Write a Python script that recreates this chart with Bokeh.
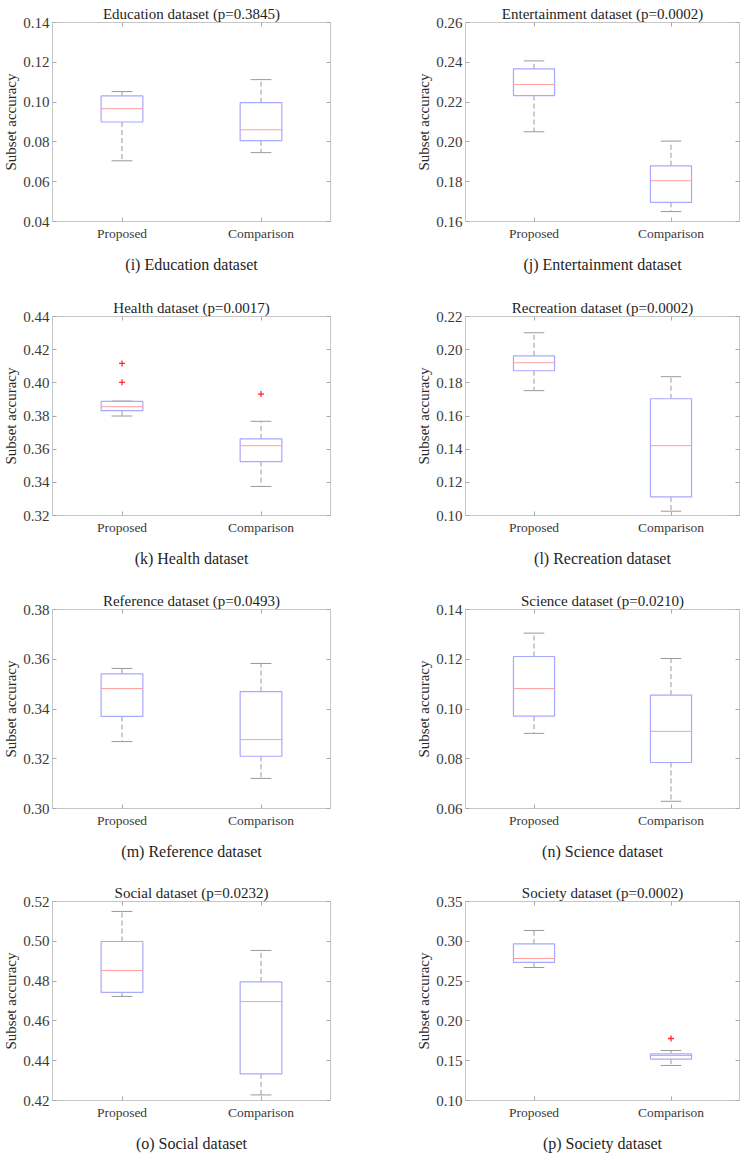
from bokeh.plotting import figure
from bokeh.models import (Range1d, FixedTicker, LinearAxis, Title,
                          PrintfTickFormatter, ColumnDataSource, CustomJSTickFormatter)
from bokeh.layouts import column, row
from bokeh.embed import file_html
from bokeh.resources import INLINE

# ---------------- data ----------------
methods = ["Proposed", "Comparison"]
datasets = ["Education", "Entertainment", "Health", "Recreation",
            "Reference", "Science", "Social", "Society"]
letters = ["i", "j", "k", "l", "m", "n", "o", "p"]
p_values = ["0.3845", "0.0002", "0.0017", "0.0002",
            "0.0493", "0.0210", "0.0232", "0.0002"]

y_lims = [(0.04, 0.14), (0.16, 0.26), (0.32, 0.44), (0.10, 0.22),
          (0.30, 0.38), (0.06, 0.14), (0.42, 0.52), (0.10, 0.35)]
y_ticks = [
    [0.04, 0.06, 0.08, 0.10, 0.12, 0.14],
    [0.16, 0.18, 0.20, 0.22, 0.24, 0.26],
    [0.32, 0.34, 0.36, 0.38, 0.40, 0.42, 0.44],
    [0.10, 0.12, 0.14, 0.16, 0.18, 0.20, 0.22],
    [0.30, 0.32, 0.34, 0.36, 0.38],
    [0.06, 0.08, 0.10, 0.12, 0.14],
    [0.42, 0.44, 0.46, 0.48, 0.50, 0.52],
    [0.10, 0.15, 0.20, 0.25, 0.30, 0.35],
]

# box statistics per dataset: [Proposed, Comparison]
whisker_low = [[0.0705, 0.0746], [0.2051, 0.1650], [0.3800, 0.3375], [0.1753, 0.1026],
               [0.3269, 0.3121], [0.0902, 0.0629], [0.4723, 0.4228], [0.2671, 0.1440]]
quart_1 = [[0.0900, 0.0806], [0.2233, 0.1696], [0.3832, 0.3525], [0.1873, 0.1112],
           [0.3370, 0.3210], [0.0971, 0.0785], [0.4743, 0.4334], [0.2734, 0.1519]]
medians = [[0.0967, 0.0861], [0.2288, 0.1805], [0.3856, 0.3621], [0.1921, 0.1421],
           [0.3482, 0.3277], [0.1082, 0.0910], [0.4853, 0.4697], [0.2784, 0.1565]]
quart_3 = [[0.1031, 0.0997], [0.2367, 0.1880], [0.3888, 0.3662], [0.1963, 0.1704],
           [0.3541, 0.3470], [0.1211, 0.1056], [0.4999, 0.4796], [0.2968, 0.1586]]
whisker_high = [[0.1053, 0.1113], [0.2407, 0.2004], [0.3890, 0.3768], [0.2102, 0.1837],
                [0.3563, 0.3583], [0.1305, 0.1203], [0.5150, 0.4954], [0.3136, 0.1628]]
outliers = [[[], []], [[], []], [[0.4117, 0.4003], [0.3932]], [[], []],
            [[], []], [[], []], [[], []], [[], [0.1779]]]

# ---------------- style ----------------
FONT = "Liberation Serif"
FRAME = "#c6c6c6"
TICK = "#a9a9a9"
BOX = "#a8a8ff"
MED = "#ff9c9c"
WHISK = "#9a9a9a"
OUT = "#ff2a2a"
TXT = "#3a3a3a"
TITLE_TXT = "#1e1e1e"

box_w = 0.3
cap_w = 0.15
positions = [1, 2]

bottom_border = [73, 72, 71, 59]


def make_panel(i):
    r, c = divmod(i, 2)
    lo, hi = y_lims[i]
    if c == 0:
        ml, mr, fw, cap_off = 49, 83, 278, -4
    else:
        ml, mr, fw, cap_off = 50, 10, 274, -2
    p = figure(frame_width=fw, frame_height=199,
               x_range=Range1d(0.5, 2.5), y_range=Range1d(lo, hi),
               output_backend="svg", toolbar_location=None,
               min_border_left=ml, min_border_right=mr,
               min_border_top=22, min_border_bottom=bottom_border[r])
    p.grid.visible = False
    p.outline_line_color = FRAME
    p.outline_line_width = 1
    p.background_fill_color = "white"
    p.border_fill_color = "white"

    # title
    p.title.text = f"{datasets[i]} dataset (p={p_values[i]})"
    p.title.align = "center"
    p.title.text_font = FONT
    p.title.text_font_size = "15px"
    p.title.text_font_style = "normal"
    p.title.text_color = TITLE_TXT
    p.title.standoff = 2

    # axes
    p.xaxis.ticker = FixedTicker(ticks=positions)
    p.xaxis.major_label_overrides = {1: methods[0], 2: methods[1]}
    p.yaxis.ticker = FixedTicker(ticks=y_ticks[i])
    p.yaxis.formatter = PrintfTickFormatter(format="%.2f")
    for ax in (p.xaxis[0], p.yaxis[0]):
        ax.axis_line_color = None
        ax.major_tick_in = 4
        ax.major_tick_out = 0
        ax.major_tick_line_color = TICK
        ax.minor_tick_line_color = None
        ax.major_label_text_font = FONT
        ax.major_label_text_color = TXT
    p.xaxis.major_label_text_font_size = "13.5px"
    p.xaxis.major_label_standoff = 4
    p.yaxis.major_label_text_font_size = "15px"
    p.yaxis.major_label_standoff = 3
    p.yaxis.axis_label = "Subset accuracy"
    p.yaxis.axis_label_text_font = FONT
    p.yaxis.axis_label_text_font_size = "15px"
    p.yaxis.axis_label_text_font_style = "normal"
    p.yaxis.axis_label_text_color = "#2a2a2a"
    p.yaxis.axis_label_standoff = 1

    blank = CustomJSTickFormatter(code="return ''")
    right_ax = LinearAxis(ticker=FixedTicker(ticks=y_ticks[i]), formatter=blank,
                          axis_line_color=None, major_tick_in=4, major_tick_out=0,
                          major_tick_line_color=TICK, minor_tick_line_color=None,
                          major_label_text_font_size="0px", major_label_standoff=0)
    top_ax = LinearAxis(ticker=FixedTicker(ticks=positions), formatter=blank,
                        axis_line_color=None, major_tick_in=4, major_tick_out=0,
                        major_tick_line_color=TICK, minor_tick_line_color=None,
                        major_label_text_font_size="0px", major_label_standoff=0)
    p.add_layout(right_ax, "right")
    p.add_layout(top_ax, "above")

    # caption below the panel
    p.add_layout(Title(text=f"({letters[i]}) {datasets[i]} dataset", align="center",
                       text_font=FONT, text_font_size="16px", text_font_style="normal",
                       text_color="#1e1e1e", standoff=21, offset=cap_off), "below")

    # boxes
    src = ColumnDataSource(dict(
        x=positions,
        lo=whisker_low[i], q1=quart_1[i], med=medians[i], q3=quart_3[i], hi=whisker_high[i],
        bl=[x - box_w / 2 for x in positions], br=[x + box_w / 2 for x in positions],
        cl=[x - cap_w / 2 for x in positions], cr=[x + cap_w / 2 for x in positions],
    ))
    p.segment(x0="x", y0="q3", x1="x", y1="hi", source=src,
              line_color=WHISK, line_dash="5 3", line_width=1)
    p.segment(x0="x", y0="q1", x1="x", y1="lo", source=src,
              line_color=WHISK, line_dash="5 3", line_width=1)
    p.segment(x0="cl", y0="hi", x1="cr", y1="hi", source=src, line_color=WHISK, line_width=1)
    p.segment(x0="cl", y0="lo", x1="cr", y1="lo", source=src, line_color=WHISK, line_width=1)
    p.quad(left="bl", right="br", bottom="q1", top="q3", source=src,
           fill_color=None, line_color=BOX, line_width=1.2)
    p.segment(x0="bl", y0="med", x1="br", y1="med", source=src, line_color=MED, line_width=1)

    ox, oy = [], []
    for k, vals in enumerate(outliers[i]):
        for v in vals:
            ox.append(positions[k])
            oy.append(v)
    if ox:
        p.scatter(ox, oy, marker="cross", size=6, line_color=OUT, line_width=1.3)
    return p


panels = [make_panel(i) for i in range(8)]
layout = column(*[row(panels[2 * r], panels[2 * r + 1]) for r in range(4)])

open("out.html", "w").write(file_html(layout, INLINE))
